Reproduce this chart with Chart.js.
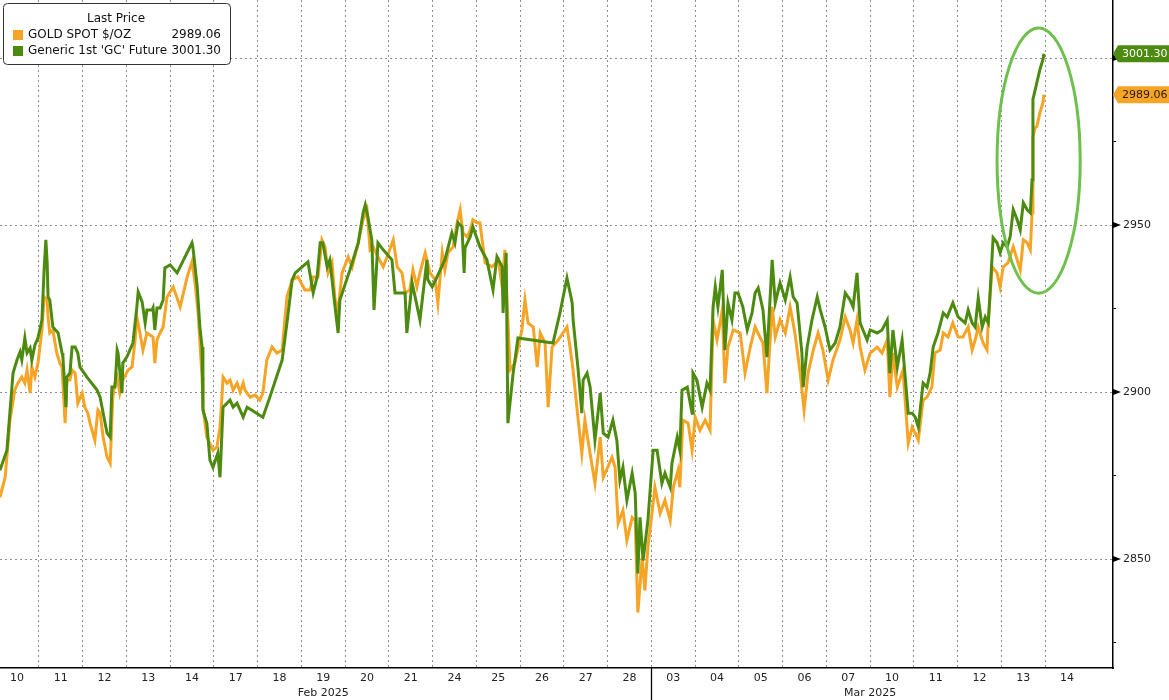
<!DOCTYPE html>
<html><head><meta charset="utf-8">
<script src="https://cdn.jsdelivr.net/npm/chart.js@4/dist/chart.umd.min.js"></script>
<style>html,body{margin:0;padding:0;background:#fff;}#wrap{width:1169px;height:700px;position:relative;}</style>
</head><body><div id="wrap"><canvas id="c" width="1169" height="700"></canvas></div>
<script>
// ---- data ----
const dayLabels = ['10','11','12','13','14','17','18','19','20','21','24','25','26','27','28','03','04','05','06','07','10','11','12','13','14'];
const monthLabels = ['Feb 2025', 'Mar 2025'];
const monthCenters = [7.5, 20];
const monthBreaks = [15];
const yTickValues = [2825, 2850, 2875, 2900, 2925, 2950, 2975, 3000];
const seriesNames = ['GOLD SPOT $/OZ', "Generic 1st 'GC' Future"];
const lastPrices = ['2989.06', '3001.30'];

const goldTime = [
0.11,0.23,0.34,0.45,0.52,0.61,0.68,0.73,0.80,0.84,
0.91,0.98,1.07,1.12,1.19,1.21,1.25,1.32,1.41,1.48,
1.53,1.60,1.64,1.71,1.76,1.83,1.89,1.99,2.05,2.12,
2.17,2.28,2.35,2.40,2.47,2.56,2.63,2.69,2.74,2.79,
2.85,2.92,3.04,3.13,3.20,3.24,3.31,3.38,3.47,3.61,
3.65,3.70,3.77,3.84,3.93,4.07,4.23,4.39,4.50,4.57,
4.64,4.73,4.75,4.84,4.98,5.07,5.14,5.19,5.21,5.30,
5.37,5.44,5.53,5.60,5.67,5.71,5.83,5.94,6.05,6.12,
6.21,6.33,6.44,6.56,6.67,6.79,6.92,7.08,7.20,7.27,
7.38,7.47,7.54,7.61,7.70,7.77,7.84,7.93,8.07,8.16,
8.30,8.41,8.50,8.57,8.64,8.75,8.87,8.96,9.10,9.19,
9.30,9.37,9.48,9.55,9.64,9.71,9.83,9.94,10.06,10.12,
10.22,10.28,10.35,10.47,10.56,10.63,10.69,10.79,10.86,10.92,
11.01,11.08,11.20,11.36,11.50,11.59,11.65,11.77,11.88,12.04,
12.11,12.18,12.30,12.39,12.46,12.57,12.64,12.73,12.87,13.07,
13.14,13.21,13.32,13.41,13.48,13.55,13.71,13.83,13.90,14.10,
14.17,14.24,14.35,14.44,14.56,14.63,14.69,14.79,14.85,14.92,
15.02,15.08,15.20,15.31,15.43,15.50,15.61,15.65,15.72,15.84,
15.93,16.00,16.11,16.23,16.34,16.41,16.50,16.62,16.68,16.75,
16.87,17.03,17.14,17.26,17.37,17.48,17.55,17.64,17.76,17.83,
17.94,18.06,18.17,18.28,18.40,18.49,18.58,18.70,18.81,18.92,
19.04,19.15,19.31,19.43,19.54,19.61,19.70,19.77,19.88,20.00,
20.16,20.27,20.39,20.45,20.52,20.62,20.75,20.87,20.96,21.03,
21.10,21.21,21.30,21.41,21.48,21.60,21.67,21.78,21.89,22.01,
22.12,22.24,22.33,22.40,22.47,22.58,22.67,22.70,22.79,22.90,
22.97,23.04,23.15,23.27,23.36,23.43,23.50,23.59,23.66,23.70,
23.72,23.77,23.81,23.88,23.95,23.97];
const goldSpot = [
2868.5,2874.5,2891.6,2900.6,2902.7,2904.5,2902.7,2906.6,2899.7,2907.5,
2904.5,2908.7,2918.6,2928.5,2927.6,2922.5,2917.7,2918.6,2911.7,2908.7,
2907.5,2890.7,2903.6,2903.6,2906.6,2905.7,2896.7,2899.7,2895.5,2893.7,
2890.7,2885.6,2894.6,2893.7,2886.5,2880.5,2878.7,2898.5,2902.7,2904.5,
2899.7,2903.6,2906.6,2907.5,2915.6,2922.5,2917.7,2912.6,2917.7,2916.5,
2908.7,2915.6,2917.7,2919.5,2928.5,2931.5,2925.5,2934.5,2939.0,2932.7,
2923.7,2904.5,2895.5,2886.5,2882.6,2883.5,2889.5,2899.7,2904.5,2902.7,
2903.6,2900.6,2902.7,2900.0,2902.7,2900.6,2898.5,2899.1,2897.6,2899.7,
2909.6,2913.5,2911.7,2912.6,2928.5,2933.6,2934.5,2930.6,2930.6,2934.5,
2934.5,2945.6,2943.5,2935.7,2938.7,2927.6,2924.6,2935.7,2940.5,2937.5,
2944.7,2951.6,2954.6,2942.6,2943.5,2940.5,2937.5,2940.5,2945.6,2937.5,
2935.7,2929.7,2930.6,2936.6,2931.5,2935.7,2941.7,2935.7,2933.6,2926.7,
2941.7,2936.6,2941.7,2943.5,2950.7,2954.6,2947.7,2946.5,2948.6,2951.6,
2950.7,2950.7,2938.7,2937.5,2939.6,2931.5,2942.6,2906.6,2908.7,2918.6,
2927.6,2920.7,2919.5,2907.5,2917.7,2914.7,2895.5,2913.5,2915.6,2919.5,
2913.5,2906.6,2892.5,2881.7,2891.6,2885.6,2872.7,2886.5,2874.5,2880.5,
2877.5,2860.7,2864.6,2855.6,2862.5,2861.6,2834.0,2850.5,2840.6,2853.5,
2864.6,2871.5,2863.7,2867.6,2861.6,2871.5,2876.6,2871.5,2891.6,2890.7,
2882.6,2892.5,2888.6,2891.6,2888.6,2921.6,2915.6,2924.6,2902.7,2913.5,
2918.6,2917.7,2905.7,2913.5,2919.5,2916.5,2914.7,2899.7,2925.5,2916.5,
2921.6,2917.7,2925.5,2917.7,2905.7,2894.6,2905.7,2912.6,2917.7,2912.6,
2903.6,2909.6,2915.6,2922.5,2918.6,2914.7,2921.6,2913.5,2906.6,2911.7,
2913.5,2911.7,2915.6,2898.5,2911.7,2901.5,2906.6,2884.7,2889.5,2887.7,
2885.6,2897.6,2898.5,2901.5,2911.7,2912.6,2917.7,2916.5,2920.7,2916.5,
2916.5,2919.5,2912.6,2915.6,2919.5,2914.7,2912.6,2921.6,2937.5,2935.7,
2931.5,2937.5,2938.7,2943.5,2939.6,2936.6,2945.6,2944.7,2942.6,2953.7,
2976.5,2979.2,2979.5,2983.7,2986.7,2989.06];

const gcTime = [
0.11,0.27,0.41,0.50,0.57,0.61,0.68,0.73,0.80,0.84,
0.91,0.98,1.07,1.12,1.16,1.19,1.21,1.25,1.32,1.44,
1.53,1.55,1.62,1.64,1.71,1.76,1.83,1.89,1.94,2.10,
2.33,2.40,2.47,2.56,2.63,2.67,2.74,2.79,2.81,2.90,
2.92,3.01,3.15,3.24,3.27,3.36,3.43,3.47,3.59,3.61,
3.65,3.70,3.77,3.84,3.88,4.00,4.16,4.50,4.52,4.62,
4.68,4.73,4.75,4.84,4.91,4.98,5.09,5.14,5.21,5.37,
5.44,5.53,5.60,5.67,5.76,6.12,6.28,6.56,6.67,6.79,
6.86,7.15,7.27,7.36,7.43,7.49,7.59,7.65,7.77,7.84,
7.88,8.11,8.30,8.41,8.46,8.52,8.61,8.66,8.75,8.87,
9.07,9.14,9.37,9.41,9.53,9.60,9.71,9.87,9.89,9.99,
10.10,10.28,10.44,10.51,10.58,10.67,10.72,10.74,10.86,10.92,
11.08,11.24,11.38,11.47,11.59,11.61,11.68,11.72,11.84,11.95,
12.75,12.91,13.07,13.19,13.21,13.32,13.41,13.44,13.53,13.60,
13.71,13.83,13.90,14.01,14.12,14.21,14.28,14.35,14.44,14.56,
14.63,14.69,14.74,14.81,14.92,15.04,15.13,15.24,15.31,15.43,
15.47,15.59,15.65,15.70,15.82,15.93,15.95,16.04,16.16,16.27,
16.34,16.41,16.46,16.52,16.62,16.68,16.75,16.84,16.91,16.98,
17.09,17.19,17.30,17.37,17.44,17.55,17.64,17.76,17.83,17.94,
18.06,18.17,18.24,18.33,18.44,18.47,18.56,18.67,18.79,18.86,
18.97,19.08,19.20,19.31,19.43,19.54,19.61,19.70,19.77,19.93,
20.00,20.16,20.27,20.39,20.45,20.52,20.62,20.73,20.87,20.96,
21.03,21.10,21.21,21.30,21.37,21.44,21.55,21.67,21.76,21.89,
22.01,22.17,22.24,22.33,22.40,22.47,22.56,22.63,22.70,22.74,
22.81,22.90,22.97,23.04,23.13,23.20,23.27,23.36,23.43,23.50,
23.59,23.66,23.70,23.72,23.81,23.88,23.95,23.97];
const gcFuture = [
2876.6,2882.6,2905.7,2909.6,2912.0,2909.6,2916.2,2911.7,2913.2,2909.6,
2914.1,2916.2,2921.6,2936.6,2945.6,2938.7,2928.5,2927.6,2919.5,2917.7,
2911.7,2910.5,2895.5,2904.5,2905.7,2913.5,2913.5,2911.7,2907.5,2904.5,
2900.6,2898.5,2893.7,2887.7,2886.5,2901.5,2901.5,2912.6,2911.7,2899.7,
2908.7,2910.5,2914.7,2925.5,2930.0,2927.0,2920.7,2924.6,2924.6,2925.2,
2918.6,2925.2,2925.2,2927.6,2937.2,2938.1,2935.7,2944.7,2943.5,2931.5,
2919.5,2913.5,2894.6,2890.7,2879.6,2877.5,2881.7,2874.5,2895.5,2897.6,
2895.5,2896.7,2894.6,2892.5,2895.5,2892.5,2898.5,2909.6,2920.7,2933.6,
2935.7,2939.0,2929.7,2934.5,2944.7,2944.7,2937.5,2939.6,2925.5,2917.7,
2927.6,2936.6,2944.7,2953.7,2956.1,2952.5,2945.6,2924.6,2944.7,2942.6,
2939.6,2929.7,2929.7,2917.7,2932.7,2928.5,2921.6,2939.6,2933.6,2931.5,
2934.5,2939.6,2947.7,2944.7,2950.7,2949.5,2935.7,2943.2,2946.5,2949.5,
2943.5,2939.6,2930.6,2940.5,2937.5,2923.7,2941.7,2890.7,2905.7,2916.2,
2914.7,2923.7,2934.2,2926.7,2921.6,2907.5,2893.7,2903.6,2905.7,2901.5,
2885.6,2899.7,2887.7,2886.5,2891.6,2885.6,2873.6,2877.5,2867.6,2875.7,
2869.7,2845.7,2862.5,2849.6,2861.6,2882.6,2882.6,2872.7,2875.7,2871.5,
2878.7,2886.5,2882.6,2900.6,2901.5,2893.7,2905.7,2903.6,2895.5,2902.7,
2900.6,2925.5,2931.5,2925.5,2936.6,2912.6,2926.7,2921.6,2929.7,2929.7,
2925.5,2918.6,2923.7,2929.7,2931.2,2924.6,2910.5,2939.6,2926.7,2932.7,
2927.6,2934.5,2928.5,2926.7,2911.7,2901.5,2913.5,2921.6,2928.5,2924.6,
2919.5,2912.6,2914.7,2919.5,2929.7,2927.6,2925.5,2935.7,2920.7,2915.6,
2918.6,2917.7,2918.6,2921.6,2905.7,2918.6,2907.5,2915.6,2893.7,2893.7,
2892.5,2889.5,2902.7,2901.5,2905.7,2913.5,2917.7,2923.7,2922.5,2926.7,
2922.5,2920.7,2924.6,2920.7,2919.5,2928.2,2919.5,2922.5,2920.7,2929.7,
2946.2,2944.7,2941.7,2944.7,2943.5,2946.5,2954.6,2951.6,2948.6,2956.7,
2954.6,2953.7,2963.6,2987.6,2992.7,2996.6,2999.6,3001.30];

// highlight ellipse, in data units (day index / price)
const highlight = { t: 23.85, price: 2969.3, halfDays: 0.95, halfPrice: 39.7 };

// ---- styles ----
const GREEN = '#4d8a10';
const ORANGE = '#f5a425';
const FONT = '"DejaVu Sans", Verdana, sans-serif';

function pts(t, v) { const n = Math.min(t.length, v.length); const a = []; for (let i = 0; i < n; i++) a.push({x: t[i], y: v[i]}); return a; }

const overlay = {
  id: 'overlay',
  afterDatasetsDraw(chart) {
    const {ctx, scales: {x, y}} = chart;
    const cx = x.getPixelForValue(highlight.t), cy = y.getPixelForValue(highlight.price);
    const rx = x.getPixelForValue(highlight.t + highlight.halfDays) - cx;
    const ry = cy - y.getPixelForValue(highlight.price + highlight.halfPrice);
    ctx.save();
    ctx.strokeStyle = '#6dc04c'; ctx.lineWidth = 3;
    ctx.beginPath(); ctx.ellipse(cx, cy, rx, ry, 0, 0, Math.PI * 2); ctx.stroke();
    ctx.restore();
  },
  afterDraw(chart) {
    const {ctx, scales: {x, y}, chartArea: ca} = chart;
    ctx.save();
    // month separators below axis
    ctx.strokeStyle = '#000'; ctx.lineWidth = 1.3;
    monthBreaks.forEach(b => { const px = Math.round(x.getPixelForValue(b)) + 0.5; ctx.beginPath(); ctx.moveTo(px, ca.bottom); ctx.lineTo(px, chart.height); ctx.stroke(); });
    // month labels
    ctx.font = '11px ' + FONT; ctx.fillStyle = '#222'; ctx.textAlign = 'center'; ctx.textBaseline = 'middle';
    monthLabels.forEach((m, i) => ctx.fillText(m, x.getPixelForValue(monthCenters[i]), ca.bottom + 25));
    // arrow marks at major y ticks
    ctx.fillStyle = '#000';
    yTickValues.filter(v => v % 50 === 0).forEach(v => {
      const py = y.getPixelForValue(v);
      ctx.beginPath(); ctx.moveTo(ca.right, py - 3); ctx.lineTo(ca.right + 8, py); ctx.lineTo(ca.right, py + 3); ctx.closePath(); ctx.fill();
    });
    // last price tags
    const tags = [
      {v: goldSpot[goldSpot.length - 1], txt: lastPrices[0], bg: ORANGE, fg: '#2a1a00'},
      {v: gcFuture[gcFuture.length - 1], txt: lastPrices[1], bg: GREEN, fg: '#ffffff'}
    ];
    tags.forEach(tg => {
      const py = y.getPixelForValue(tg.v);
      ctx.fillStyle = tg.bg;
      ctx.beginPath(); ctx.moveTo(ca.right, py); ctx.lineTo(ca.right + 5, py - 8.5); ctx.lineTo(chart.width, py - 8.5);
      ctx.lineTo(chart.width, py + 8.5); ctx.lineTo(ca.right + 5, py + 8.5); ctx.closePath(); ctx.fill();
      ctx.fillStyle = tg.fg; ctx.font = '11px ' + FONT; ctx.textAlign = 'left'; ctx.textBaseline = 'middle';
      ctx.fillText(tg.txt, ca.right + 9, py + 0.5);
    });
    // legend box
    const bx = 3.5, by = 3.5, bw = 227, bh = 61, r = 4;
    ctx.beginPath();
    ctx.moveTo(bx + r, by); ctx.lineTo(bx + bw - r, by); ctx.quadraticCurveTo(bx + bw, by, bx + bw, by + r);
    ctx.lineTo(bx + bw, by + bh - r); ctx.quadraticCurveTo(bx + bw, by + bh, bx + bw - r, by + bh);
    ctx.lineTo(bx + r, by + bh); ctx.quadraticCurveTo(bx, by + bh, bx, by + bh - r);
    ctx.lineTo(bx, by + r); ctx.quadraticCurveTo(bx, by, bx + r, by); ctx.closePath();
    ctx.fillStyle = '#fff'; ctx.fill(); ctx.strokeStyle = '#333'; ctx.lineWidth = 1; ctx.stroke();
    ctx.fillStyle = '#111'; ctx.font = '12px ' + FONT; ctx.textAlign = 'center'; ctx.textBaseline = 'middle';
    ctx.fillText('Last Price', 116, 19);
    const rows = [{c: ORANGE, y: 35}, {c: GREEN, y: 51}];
    rows.forEach((rw, i) => {
      ctx.fillStyle = rw.c; ctx.fillRect(13, rw.y - 5, 10, 10);
      ctx.fillStyle = '#111'; ctx.textAlign = 'left'; ctx.fillText(seriesNames[i], 28, rw.y);
      ctx.textAlign = 'right'; ctx.fillText(lastPrices[i], 221, rw.y);
    });
    ctx.restore();
  }
};

new Chart(document.getElementById('c'), {
  type: 'line',
  data: {
    datasets: [
      { label: seriesNames[1], data: pts(gcTime, gcFuture), borderColor: GREEN, borderWidth: 3, pointRadius: 0, tension: 0, fill: false },
      { label: seriesNames[0], data: pts(goldTime, goldSpot), borderColor: ORANGE, borderWidth: 3, pointRadius: 0, tension: 0, fill: false }
    ]
  },
  options: {
    responsive: false, animation: false, devicePixelRatio: 1,
    layout: { padding: 0 },
    plugins: { legend: { display: false }, tooltip: { enabled: false }, title: { display: false } },
    scales: {
      x: {
        type: 'linear', min: 0.112, max: 25.55,
        afterBuildTicks: s => { s.ticks = dayLabels.map((_, i) => ({ value: i + 0.5 })); },
        afterFit: s => { s.height = 32; s.paddingLeft = 0; s.paddingRight = 0; },
        ticks: { autoSkip: false, maxRotation: 0, padding: 4, color: '#222', font: { family: FONT, size: 11 },
                 callback: (v, i) => dayLabels[i] },
        grid: { offset: true, drawTicks: false, lineWidth: 1,
                color: c => c.type === 'tick' ? '#8c8c8c' : 'rgba(0,0,0,0)' },
        border: { display: true, color: '#000', width: 1.5, dash: [2, 3] }
      },
      y: {
        type: 'linear', position: 'right', min: 2817.4, max: 3017.4,
        afterBuildTicks: s => { s.ticks = yTickValues.map(v => ({ value: v })); },
        afterFit: s => { s.width = 56; s.paddingTop = 0; s.paddingBottom = 0; },
        ticks: { padding: 7, color: '#222', font: { family: FONT, size: 11 },
                 callback: v => (v % 50 === 0 && v < 3000) ? String(v) : '' },
        grid: { drawTicks: true, tickLength: 3, tickWidth: 1,
                tickColor: c => (c.tick && c.tick.value % 50 !== 0) ? '#000' : 'rgba(0,0,0,0)',
                color: c => (c.tick && c.tick.value % 50 === 0) ? '#8c8c8c' : 'rgba(0,0,0,0)', lineWidth: 1 },
        border: { display: true, color: '#000', width: 1.5, dash: [2, 3] }
      }
    }
  },
  plugins: [overlay]
});
</script>
</body></html>
